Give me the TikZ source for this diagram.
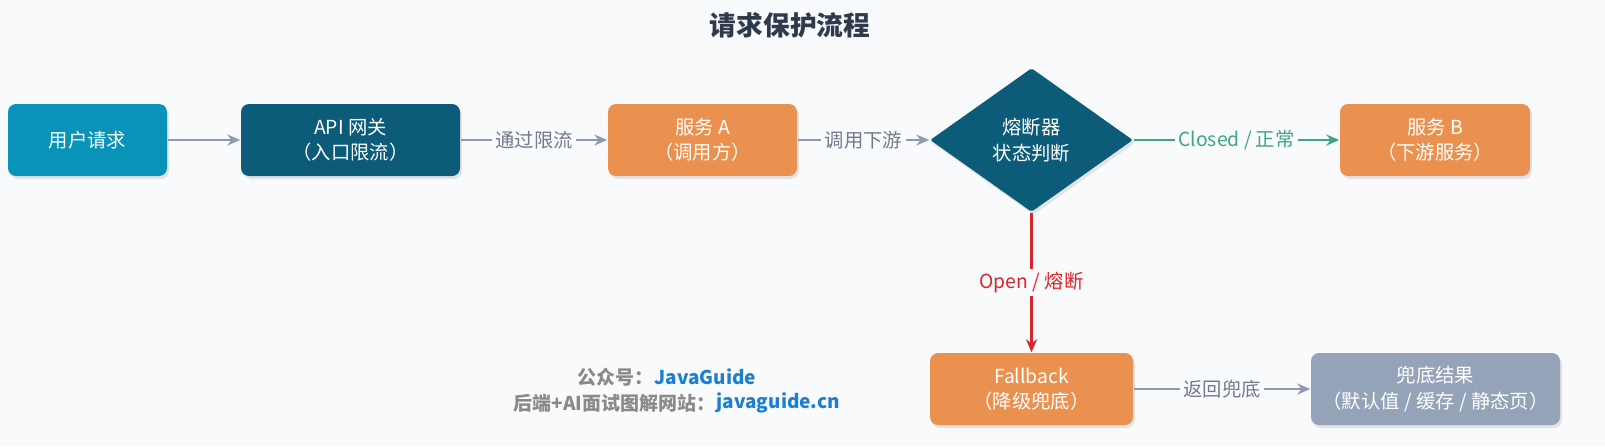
\documentclass[tikz,border=0pt]{standalone}
\usepackage{fontspec}
\setmainfont{Noto Sans CJK SC}
\usetikzlibrary{positioning,shapes.geometric,shadows,arrows.meta}
\definecolor{bgc}{HTML}{F8FAFC}
\definecolor{cyanbox}{HTML}{0A93B8}
\definecolor{tealbox}{HTML}{0B5B79}
\definecolor{orangebox}{HTML}{EA9150}
\definecolor{graybox}{HTML}{94A3B8}
\definecolor{lineg}{HTML}{8E9AAF}
\definecolor{okc}{HTML}{3FA583}
\definecolor{badc}{HTML}{D9262B}
\definecolor{titlec}{HTML}{2F3B4C}
\definecolor{markc}{HTML}{8A8A8A}
\definecolor{linkc}{HTML}{1E7FD0}
\tikzset{
  box/.style={draw=none, rounded corners=0.08cm, text=white, align=center,
    font=\fontsize{5.5pt}{7.2pt}\selectfont, inner sep=0pt,
    drop shadow={opacity=0.18, shadow xshift=0.02cm, shadow yshift=-0.03cm}},
  flow/.style={lineg, line width=0.7pt, -{Stealth[length=0.13cm,width=0.11cm]}},
  tag/.style={fill=bgc, inner sep=1pt, font=\fontsize{5.5pt}{7pt}\selectfont},
  wmark/.style={font=\bfseries\fontsize{5.4pt}{7pt}\selectfont, inner xsep=0pt}
}
\begin{document}
\begin{tikzpicture}
\fill[bgc] (0,0) rectangle (16.05,-4.46);

\node[font=\bfseries\fontsize{7.6pt}{9pt}\selectfont, text=titlec] (title) at (7.90,-0.25) {请求保护流程};

\node[box, fill=cyanbox, minimum width=1.59cm, minimum height=0.72cm] (user) at (0.875,-1.40) {用户请求};
\node[box, fill=tealbox, minimum width=2.19cm, minimum height=0.72cm] (gw) at (3.505,-1.40) {API 网关\\（入口限流）};
\node[box, fill=orangebox, minimum width=1.89cm, minimum height=0.72cm] (sa) at (7.025,-1.40) {服务 A\\（调用方）};
\node[box, fill=tealbox, diamond, aspect=1.41, minimum width=2.03cm, minimum height=1.44cm, rounded corners=0.02cm] (cb) at (10.315,-1.40) {熔断器\\状态判断};
\node[box, fill=orangebox, minimum width=1.90cm, minimum height=0.72cm] (sb) at (14.35,-1.40) {服务 B\\（下游服务）};
\node[box, fill=orangebox, minimum width=2.03cm, minimum height=0.72cm] (fb) at (10.315,-3.89) {Fallback\\（降级兜底）};
\node[box, fill=graybox, minimum width=2.49cm, minimum height=0.72cm] (res) at (14.355,-3.89) {兜底结果\\（默认值 / 缓存 / 静态页）};

\draw[flow] (user) -- (gw);
\draw[flow] (gw) -- node[tag, text=lineg!80!black] {通过限流} (sa);
\draw[flow] (sa) -- node[tag, text=lineg!80!black] {调用下游} (cb);
\draw[flow, okc] (cb) -- node[tag, text=okc] {Closed / 正常} (sb);
\draw[flow, badc] (cb) -- node[tag, text=badc] {Open / 熔断} (fb);
\draw[flow] (fb) -- node[tag, text=lineg!80!black] {返回兜底} (res);

\node[wmark, text=markc, anchor=east] (wm1) at (6.54,-3.77) {公众号：};
\node[wmark, text=linkc, anchor=west] (wm1b) at (wm1.east) {JavaGuide};
\node[wmark, text=markc, anchor=east] (wm2) at (7.16,-4.03) {后端+AI面试图解网站：};
\node[wmark, text=linkc, anchor=west] (wm2b) at (wm2.east) {javaguide.cn};

\pgfresetboundingbox
\useasboundingbox (0,0) rectangle (16.05,-4.46);
\end{tikzpicture}
\end{document}
